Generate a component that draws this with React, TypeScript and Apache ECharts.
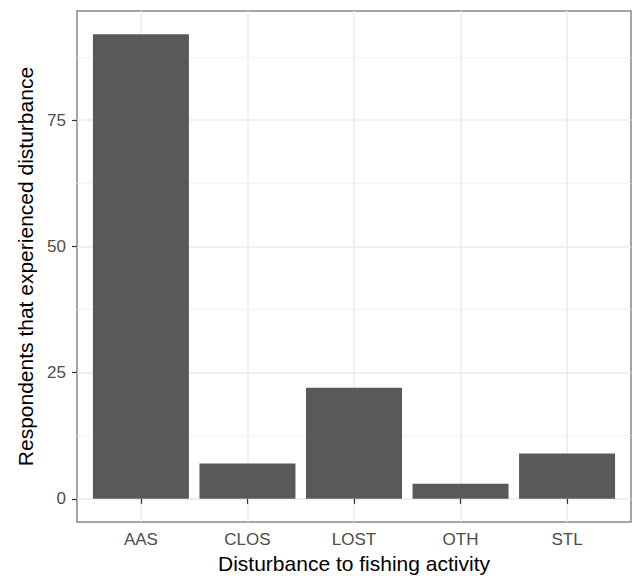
import React, { useEffect, useRef } from "react";
import * as echarts from "echarts";

const categories = ["AAS", "CLOS", "LOST", "OTH", "STL"];
const counts = [92, 7, 22, 3, 9];
const yMajorTicks = [0, 25, 50, 75];
const yMinorTicks = [12.5, 37.5, 62.5, 87.5];
const xTickPositions = [1, 2, 3, 4, 5];

const FONT = "'Liberation Sans', Arial, Helvetica, sans-serif";

export default function App() {
  const ref = useRef<HTMLDivElement>(null);
  useEffect(() => {
    if (!ref.current) return;
    const chart = echarts.init(ref.current, null, { renderer: "svg" });
    const yMin = -4.6;
    const yMax = 96.6;
    chart.setOption({
      animation: false,
      backgroundColor: "#ffffff",
      textStyle: { fontFamily: FONT },
      grid: {
        left: 77,
        right: 2,
        top: 11,
        bottom: 55,
        show: true,
        borderColor: "#888888",
        borderWidth: 1.5,
        backgroundColor: "transparent",
        containLabel: false,
      },
      xAxis: {
        type: "value",
        min: 0.4,
        max: 5.6,
        name: "Disturbance to fishing activity",
        nameLocation: "middle",
        nameGap: 29,
        nameTextStyle: { fontSize: 21, color: "#000000", fontFamily: FONT, lineHeight: 21 },
        axisLine: { show: false },
        axisTick: {
          show: true,
          length: 5,
          customValues: xTickPositions,
          lineStyle: { color: "#333333", width: 1.2 },
        },
        axisLabel: {
          customValues: xTickPositions,
          formatter: (v: number) => categories[Math.round(v) - 1] ?? "",
          fontSize: 17,
          lineHeight: 17,
          color: "#4d4d4d",
          margin: 9,
          fontFamily: FONT,
        },
        splitLine: { show: true, lineStyle: { color: "#ebebeb", width: 1.5 } },
      },
      yAxis: [
        {
          type: "value",
          min: yMin,
          max: yMax,
          name: "Respondents that experienced disturbance",
          nameLocation: "middle",
          nameGap: 40,
          nameRotate: 90,
          nameTextStyle: { fontSize: 21, color: "#000000", fontFamily: FONT, lineHeight: 21 },
          axisLine: { show: false },
          axisTick: {
            show: true,
            length: 5,
            customValues: yMajorTicks,
            lineStyle: { color: "#333333", width: 1.2 },
          },
          axisLabel: {
            customValues: yMajorTicks,
            fontSize: 17,
            color: "#4d4d4d",
            margin: 11,
            fontFamily: FONT,
          },
          splitLine: { show: true, lineStyle: { color: "#ebebeb", width: 1.5 } },
        },
        {
          type: "value",
          min: yMin,
          max: yMax,
          position: "left",
          axisLine: { show: false },
          axisTick: { show: false, customValues: yMinorTicks },
          axisLabel: { show: false, customValues: yMinorTicks },
          splitLine: { show: true, lineStyle: { color: "#f3f3f3", width: 1 } },
        },
      ],
      series: [
        {
          type: "bar",
          xAxisIndex: 0,
          yAxisIndex: 0,
          barWidth: 96,
          itemStyle: { color: "#595959" },
          data: counts.map((c, i) => [xTickPositions[i], c]),
        },
      ],
    });
    return () => chart.dispose();
  }, []);
  return (
    <div
      ref={ref}
      style={{ position: "absolute", left: 0, top: 0, width: 633, height: 579 }}
    />
  );
}
